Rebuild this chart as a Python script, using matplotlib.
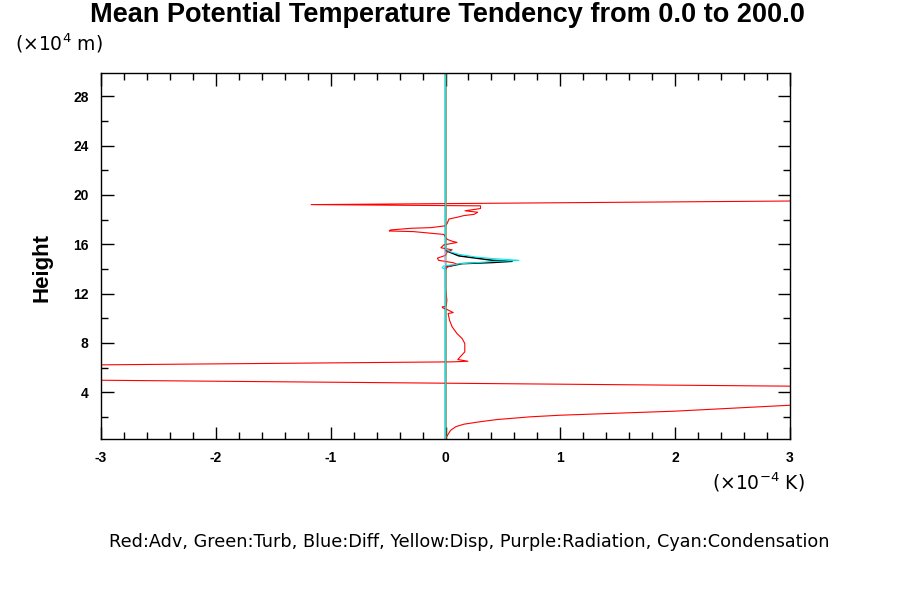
import matplotlib
matplotlib.use("Agg")
import matplotlib.pyplot as plt
from matplotlib.ticker import MultipleLocator

plt.rcParams['axes.unicode_minus'] = False

# ---- data (x: tendency in 1e-4 K, y: height in 1e4 m) ----
adv_x = [0.0, 0.017, 0.044, 0.09, 0.16, 0.30, 0.45, 0.74, 1.0, 2.0, 3.0, 4.5, 6.6,
         -5.9, -10.0, 0.058, 0.195, 0.145, 0.107, 0.168, 0.168, 0.145, 0.10, 0.058,
         0.035, 0.023, 0.067, 0.015, -0.024, -0.029, 0.006, 0.012, 0.0, 0.0,
         0.015, 0.10, 0.07, -0.06, -0.07, 0.0, 0.015, 0.058, -0.04, -0.015,
         0.10, 0.058, 0.015, -0.015, -0.28, -0.49, -0.48, -0.30, -0.13, 0.0,
         0.015, 0.03, 0.10, 0.16, 0.25, 0.28, 0.17, 0.305, 0.305, -1.17, 10.0]
adv_y = [0.2, 0.5, 0.9, 1.2, 1.4, 1.6, 1.78, 2.0, 2.13, 2.46, 2.94, 3.5, 4.2,
         5.2, 5.66, 6.46, 6.51, 6.59, 6.65, 7.27, 7.95, 8.35, 8.76, 9.3,
         9.84, 10.38, 10.46, 10.7, 10.84, 10.92, 10.97, 11.46, 12.5, 13.9,
         14.16, 14.38, 14.5, 14.7, 14.88, 15.1, 15.38, 15.55, 15.72, 15.95,
         16.15, 16.25, 16.4, 16.8, 17.03, 17.08, 17.16, 17.3, 17.35, 17.5,
         17.7, 18.05, 18.19, 18.33, 18.43, 18.6, 18.72, 18.9, 19.12, 19.22, 20.0]

zero_x = [0.0, 0.0]
zero_y = [0.2, 30.0]

rad_x = [0.0, 0.0, -0.006, -0.006, 0.0, 0.0]
rad_y = [0.2, 14.3, 14.5, 15.4, 15.6, 30.0]

total_x = [0.0, 0.0, 0.0, 0.145, 0.41, 0.58, 0.41, 0.116, 0.0, 0.0]
total_y = [0.2, 14.0, 14.16, 14.43, 14.52, 14.62, 14.70, 15.06, 15.5, 30.0]

cond_x = [0.0, 0.0, -0.03, -0.015, 0.116, 0.41, 0.64, 0.41, 0.26, 0.116, 0.044, 0.0, 0.0]
cond_y = [0.2, 13.95, 14.1, 14.24, 14.41, 14.6, 14.7, 14.84, 14.97, 15.19, 15.38, 15.65, 30.0]

title = "Mean Potential Temperature Tendency from 0.0 to 200.0"
legend_text = "Red:Adv, Green:Turb, Blue:Diff, Yellow:Disp, Purple:Radiation, Cyan:Condensation"
x_ticks = [-3, -2, -1, 0, 1, 2, 3]
y_ticks = [4, 8, 12, 16, 20, 24, 28]

# ---- figure ----
fig = plt.figure(figsize=(9, 6), dpi=100)
ax = fig.add_axes([101/900, 1-439/600, (790-101)/900, (439-73)/600])

ax.plot(total_x, total_y, color='black', lw=1.1)
ax.plot(adv_x, adv_y, color='red', lw=0.8)
ax.plot(zero_x, zero_y, color='#00c000', lw=0.3)
ax.plot(zero_x, zero_y, color='blue', lw=0.3)
ax.plot(zero_x, zero_y, color='yellow', lw=0.3)
ax.plot(rad_x, rad_y, color='#c080ff', lw=0.6)
ax.plot(cond_x, cond_y, color='#00e8e8', lw=0.8)

ax.set_xlim(-3, 3)
ax.set_ylim(0.2, 29.9)
ax.set_xticks(x_ticks)
ax.set_yticks(y_ticks)
ax.xaxis.set_minor_locator(MultipleLocator(0.2))
ax.yaxis.set_minor_locator(MultipleLocator(2))
ax.tick_params(which='both', direction='in', top=True, right=True, width=1, color='black')
ax.tick_params(which='major', length=9, labelsize=10, pad=9)
ax.tick_params(which='minor', length=5)
for lab in ax.get_xticklabels() + ax.get_yticklabels():
    lab.set_fontweight('bold')
    lab.set_family('Liberation Sans')
for sp in ax.spines.values():
    sp.set_linewidth(1.0)

fig.text(0.497, 0.975, title, ha='center', va='center', fontsize=19.5,
         fontweight='bold', family='Liberation Sans')
fig.text(15/900, 1-43/600, r'($\times$10$^{4}$ m)', ha='left', va='center', fontsize=13.5,
         family='DejaVu Sans')
fig.text(805/900, 1-482/600, r'($\times$10$^{-4}$ K)', ha='right', va='center', fontsize=13.5,
         family='DejaVu Sans')
fig.text(0.0467, 1-268/600, 'Height', rotation=90, ha='center', va='center', fontsize=16,
         fontweight='bold', family='Liberation Sans')
fig.text(469/900, 1-542/600, legend_text, ha='center', va='center', fontsize=12.7,
         family='DejaVu Sans')

fig.savefig('out.png', dpi=100)
